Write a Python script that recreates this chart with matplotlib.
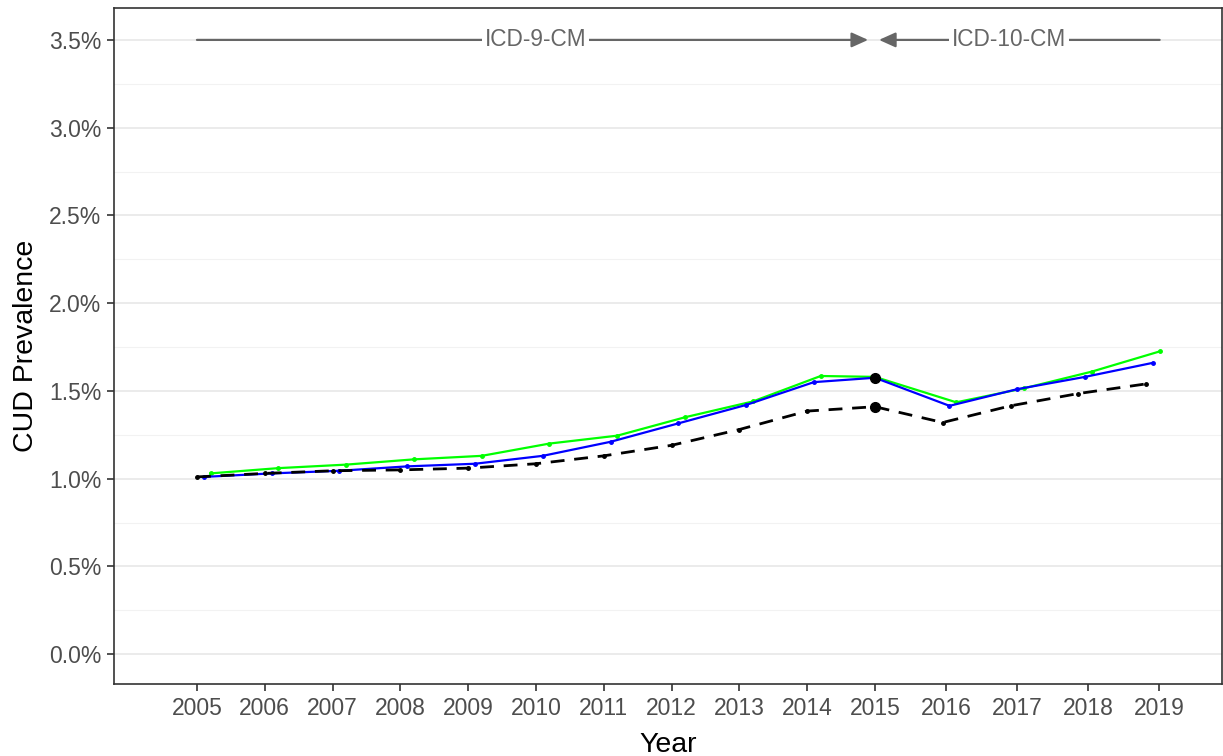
import numpy as np
import matplotlib.pyplot as plt
from matplotlib.ticker import FuncFormatter, MultipleLocator

plt.rcParams['font.family'] = ['Liberation Sans', 'DejaVu Sans']

years = list(range(2005, 2020))

# CUD prevalence (%) by year, three estimates
prev_green = [1.03, 1.06, 1.08, 1.11, 1.13, 1.20, 1.245, 1.35, 1.44, 1.585, 1.58,
              1.435, 1.515, 1.61, 1.725]
prev_blue = [1.01, 1.03, 1.045, 1.07, 1.085, 1.13, 1.21, 1.315, 1.42, 1.55, 1.575,
             1.415, 1.51, 1.58, 1.66]
prev_black = [1.01, 1.03, 1.045, 1.05, 1.06, 1.085, 1.13, 1.19, 1.28, 1.385, 1.41,
              1.32, 1.415, 1.485, 1.54]

switch_year = 2015
tick_labels = [str(y) for y in years]

grey = '#666666'
ink = '#333333'


def dodge(offset):
    # shift points sideways so the series don't overlap, except at the switch year
    return [y if y == switch_year else y + offset for y in years]


def tick_pos(y):
    return y if y <= switch_year else switch_year + (y - switch_year) * 1.047


fig = plt.figure(figsize=(12.23, 7.56), dpi=100)
ax = fig.add_axes([0.0932, 0.095, 0.906, 0.894])

ax.plot(dodge(0.2), prev_green, color='#00FF00', lw=1.6, marker='o', ms=2.5, zorder=3)
ax.plot(dodge(0.1), prev_blue, color='#0000FF', lw=1.6, marker='o', ms=2.5, zorder=4)
ax.plot(dodge(0.0), prev_black, color='black', lw=2.0, ls=(0, (5, 3.5)),
        marker='o', ms=2.5, zorder=5)

# highlight the transition year
i = years.index(switch_year)
ax.plot([switch_year, switch_year], [prev_blue[i], prev_black[i]], 'o',
        color='black', ms=7, ls='none', zorder=6)

# coding-system annotation along the top
head = '-|>,head_length=1.0,head_width=0.45'
ax.annotate('', xy=(2014.9, 3.5), xytext=(2005, 3.5),
            arrowprops=dict(arrowstyle=head, color=grey, lw=1.6, shrinkA=0, shrinkB=0))
ax.annotate('', xy=(2015.06, 3.5), xytext=(2019.2, 3.5),
            arrowprops=dict(arrowstyle=head, color=grey, lw=1.6, shrinkA=0, shrinkB=0))
ax.text(2010.0, 3.5, 'ICD-9-CM', color=grey, fontsize=16.3, ha='center', va='center',
        bbox=dict(facecolor='white', edgecolor='none', pad=2), zorder=7)
ax.text(2016.98, 3.5, 'ICD-10-CM', color=grey, fontsize=16.3, ha='center', va='center',
        bbox=dict(facecolor='white', edgecolor='none', pad=2), zorder=7)

ax.set_xlim(2003.776, 2020.12)
ax.set_ylim(-0.171, 3.68)
ax.set_xticks([tick_pos(y) for y in years])
ax.set_xticklabels(tick_labels)
ax.yaxis.set_major_locator(MultipleLocator(0.5))
ax.yaxis.set_minor_locator(MultipleLocator(0.25))
ax.yaxis.set_major_formatter(FuncFormatter(lambda v, p: f'{v:.1f}%'))

ax.grid(axis='y', which='major', color='#EBEBEB', lw=1.4)
ax.grid(axis='y', which='minor', color='#F2F2F2', lw=0.8)
ax.set_axisbelow(True)

for s in ax.spines.values():
    s.set_color(ink)
    s.set_linewidth(1.2)
ax.tick_params(axis='both', which='major', length=5, width=1.2, color=ink,
               labelcolor='#4D4D4D', labelsize=16.5, pad=4)
ax.tick_params(axis='y', which='minor', length=0)

ax.set_xlabel('Year', fontsize=20.5, labelpad=9)
ax.set_ylabel('CUD Prevalence', fontsize=20.5, labelpad=7)

fig.savefig('out.png', dpi=100)
